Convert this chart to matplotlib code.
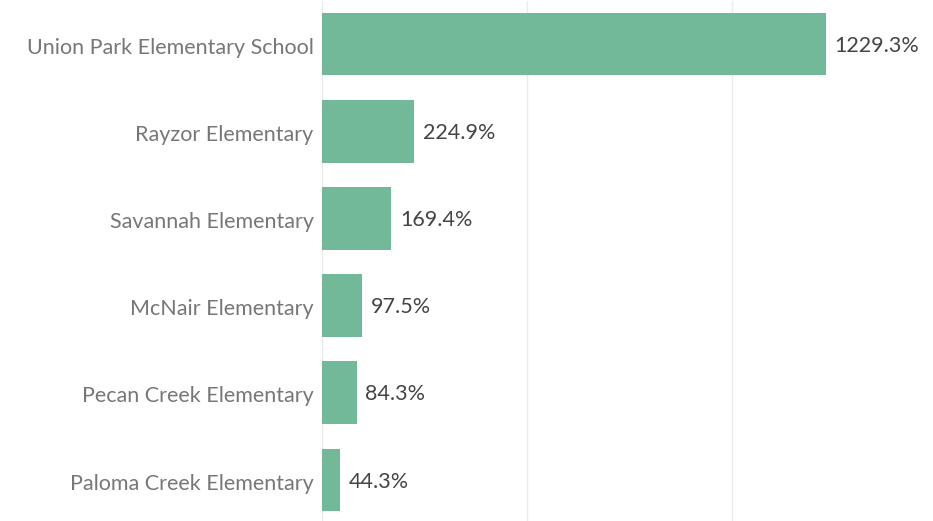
import matplotlib
matplotlib.use("Agg")
import matplotlib.pyplot as plt

schools = ["Union Park Elementary School", "Rayzor Elementary", "Savannah Elementary",
           "McNair Elementary", "Pecan Creek Elementary", "Paloma Creek Elementary"]
values = [1229.3, 224.9, 169.4, 97.5, 84.3, 44.3]
labels = ["1229.3%", "224.9%", "169.4%", "97.5%", "84.3%", "44.3%"]
grid_ticks = [0, 500, 1000]

plt.rcParams['font.family'] = ['Lato', 'DejaVu Sans']

W, H = 933, 521
fig = plt.figure(figsize=(W / 100, H / 100), dpi=100)
ax = fig.add_axes([322 / W, -2.5 / H, 1 - 322 / W, 523 / H])

ypos = list(range(len(schools)))
ax.barh(ypos, values, height=0.72, color="#72b99a", zorder=2)
ax.set_ylim(len(schools) - 0.5, -0.5)
ax.set_xlim(0, 1490)

for y, v, t in zip(ypos, values, labels):
    ax.text(v + 21, y + 0.02, t, va="center", ha="left", fontsize=15.5, color="#444444")

ax.set_yticks([p + 0.02 for p in ypos])
ax.set_yticklabels(schools, fontsize=15.5, color="#777777")
ax.tick_params(axis="y", length=0, pad=6)
ax.set_xticks(grid_ticks)
ax.tick_params(axis="x", length=0, labelbottom=False)
ax.grid(axis="x", color="#ebebeb", linewidth=1, zorder=0)
for s in ax.spines.values():
    s.set_visible(False)

fig.savefig("out.png", dpi=100)
